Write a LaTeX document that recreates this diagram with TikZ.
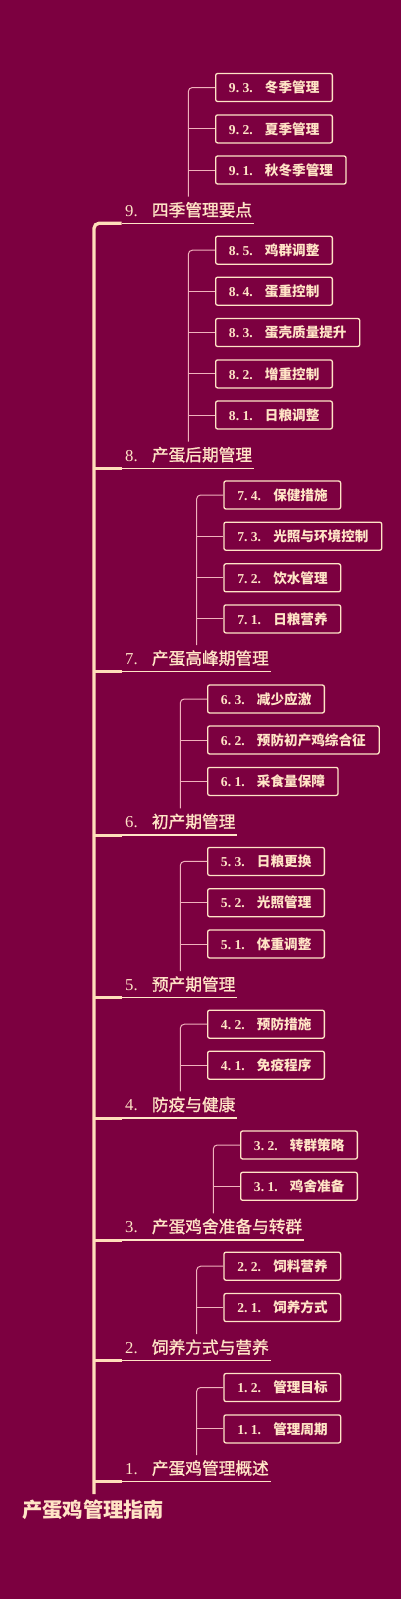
\documentclass[tikz,border=0pt]{standalone}
\usepackage{fontspec}
\setmainfont{Liberation Serif}
\newfontfamily\cjk{Noto Sans CJK SC}
\newfontfamily\cjkm{Noto Sans CJK SC}[FakeBold=1.2]
\definecolor{bgc}{RGB}{124,0,64}
\definecolor{cream}{RGB}{255,228,198}
\definecolor{trunkc}{RGB}{255,222,186}
\definecolor{subc}{RGB}{240,178,188}
\def\monoch#1{\makebox[0.5em][l]{#1}}
\def\monostr#1{\monostrA#1\relax}
\def\monostrA#1{\ifx#1\relax\else\monoch{#1}\expandafter\monostrA\fi}
\newcommand\leaf[6]{%
  \node[leafbox] (#1) at (#2,#3)
  {\makebox[\dimexpr#4pt-26.6pt\relax][l]{\makebox[36pt][l]{\monostr{#5}}{\cjk #6}}};}
\newcommand\branch[5]{%
  \node[branchlbl] (#1) at (121.7,#2)
  {\makebox[\dimexpr#3pt-6.6pt\relax][l]{\makebox[26.7pt][l]{#4}{\cjkm #5}}};
  \draw[uline] (#1.south west) -- (#1.south east);}
\begin{document}%
\begin{tikzpicture}[x=1pt,y=-1pt,
  leafbox/.style={draw=cream, line width=1.3pt, rounded corners=2pt, anchor=west,
    minimum height=28pt, inner xsep=13.3pt, inner ysep=0pt, text=cream,
    font=\fontsize{13.6}{16}\selectfont\bfseries},
  branchlbl/.style={anchor=south west, minimum height=26.7pt, inner xsep=3.3pt,
    inner ysep=0pt, text=cream, font=\fontsize{16.7}{20}\selectfont},
  uline/.style={draw=cream, line width=1.3pt},
  trunk/.style={draw=trunkc, line width=3.3pt},
  stub/.style={draw=trunkc, line width=3pt},
  sub/.style={draw=subc, line width=1pt},
  subtop/.style={sub, rounded corners=4pt}]
\useasboundingbox (0,0) rectangle (400,1599);
\fill[bgc] (-20,-20) rectangle (420,1619);

\coordinate (tt) at (94,0);
\coordinate (tbot) at (94,1494);

% branches
\branch{b9}{223.3}{132.3}{9.}{四季管理要点}
\branch{b8}{468.3}{132}{8.}{产蛋后期管理}
\branch{b7}{671.7}{149}{7.}{产蛋高峰期管理}
\branch{b6}{835}{115}{6.}{初产期管理}
\branch{b5}{997.7}{115}{5.}{预产期管理}
\branch{b4}{1118}{115}{4.}{防疫与健康}
\branch{b3}{1240}{182.3}{3.}{产蛋鸡舍准备与转群}
\branch{b2}{1360.7}{149}{2.}{饲养方式与营养}
\branch{b1}{1481.7}{149}{1.}{产蛋鸡管理概述}

% root
\node[anchor=west, inner sep=0pt, text=cream, font=\fontsize{20.3}{24}\selectfont\bfseries]
  (root) at (22,1510) {\cjk 产蛋鸡管理指南};

% trunk and stubs
\draw[trunk, rounded corners=5pt] (b9.south west) -| (tbot);
\foreach \b in {b8,b7,b6,b5,b4,b3,b2,b1}
  \draw[stub] (\b.south west -| tt) -- (\b.south west);

% leaves 9
\leaf{l93}{215}{87.5}{116.7}{9.3.}{冬季管理}
\leaf{l92}{215}{128.9}{116.7}{9.2.}{夏季管理}
\leaf{l91}{215}{170}{130.4}{9.1.}{秋冬季管理}
% leaves 8
\leaf{l85}{215}{250.2}{116.7}{8.5.}{鸡群调整}
\leaf{l84}{215}{291.2}{116.7}{8.4.}{蛋重控制}
\leaf{l83}{215}{332.5}{144.1}{8.3.}{蛋壳质量提升}
\leaf{l82}{215}{373.9}{116.7}{8.2.}{增重控制}
\leaf{l81}{215}{415}{116.7}{8.1.}{日粮调整}
% leaves 7
\leaf{l74}{223.3}{495}{116.7}{7.4.}{保健措施}
\leaf{l73}{223.3}{536.2}{157.8}{7.3.}{光照与环境控制}
\leaf{l72}{223.3}{577.8}{116.7}{7.2.}{饮水管理}
\leaf{l71}{223.3}{618.9}{116.7}{7.1.}{日粮营养}
% leaves 6
\leaf{l63}{207}{699}{116.7}{6.3.}{减少应激}
\leaf{l62}{207}{740}{171.5}{6.2.}{预防初产鸡综合征}
\leaf{l61}{207}{781.4}{130.4}{6.1.}{采食量保障}
% leaves 5
\leaf{l53}{207}{861.4}{116.7}{5.3.}{日粮更换}
\leaf{l52}{207}{902.7}{116.7}{5.2.}{光照管理}
\leaf{l51}{207}{944}{116.7}{5.1.}{体重调整}
% leaves 4
\leaf{l42}{207}{1024.2}{116.7}{4.2.}{预防措施}
\leaf{l41}{207}{1065.2}{116.7}{4.1.}{免疫程序}
% leaves 3
\leaf{l32}{240}{1145}{116.7}{3.2.}{转群策略}
\leaf{l31}{240}{1186.3}{116.7}{3.1.}{鸡舍准备}
% leaves 2
\leaf{l22}{223.3}{1266.2}{116.7}{2.2.}{饲料营养}
\leaf{l21}{223.3}{1307.5}{116.7}{2.1.}{饲养方式}
% leaves 1
\leaf{l12}{223.3}{1387.5}{116.7}{1.2.}{管理目标}
\leaf{l11}{223.3}{1428.9}{116.7}{1.1.}{管理周期}

% sub connectors
\coordinate (v9) at (188.3,196.6);
\coordinate (v8) at (188.3,441.6);
\coordinate (v7) at (196.6,645);
\coordinate (v6) at (180.3,808.3);
\coordinate (v5) at (180.3,971);
\coordinate (v4) at (180.3,1091.3);
\coordinate (v3) at (213.3,1213.3);
\coordinate (v2) at (196.6,1334);
\coordinate (v1) at (196.6,1455);

\draw[subtop] (v9) |- (l93.west);
\foreach \l in {l92,l91} \draw[sub] (v9 |- \l.west) -- (\l.west);
\draw[subtop] (v8) |- (l85.west);
\foreach \l in {l84,l83,l82,l81} \draw[sub] (v8 |- \l.west) -- (\l.west);
\draw[subtop] (v7) |- (l74.west);
\foreach \l in {l73,l72,l71} \draw[sub] (v7 |- \l.west) -- (\l.west);
\draw[subtop] (v6) |- (l63.west);
\foreach \l in {l62,l61} \draw[sub] (v6 |- \l.west) -- (\l.west);
\draw[subtop] (v5) |- (l53.west);
\foreach \l in {l52,l51} \draw[sub] (v5 |- \l.west) -- (\l.west);
\draw[subtop] (v4) |- (l42.west);
\draw[sub] (v4 |- l41.west) -- (l41.west);
\draw[subtop] (v3) |- (l32.west);
\draw[sub] (v3 |- l31.west) -- (l31.west);
\draw[subtop] (v2) |- (l22.west);
\draw[sub] (v2 |- l21.west) -- (l21.west);
\draw[subtop] (v1) |- (l12.west);
\draw[sub] (v1 |- l11.west) -- (l11.west);
\end{tikzpicture}%
\end{document}
